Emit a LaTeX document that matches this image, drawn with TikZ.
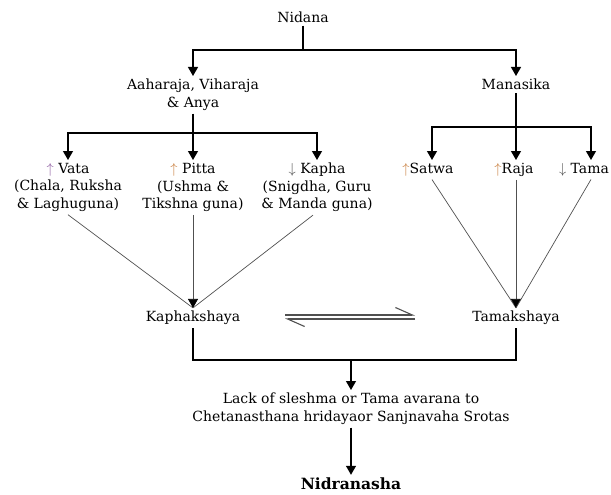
\documentclass[tikz,border=0pt]{standalone}
\usepackage{fontspec}
\setmainfont{DejaVu Serif}
\usetikzlibrary{arrows.meta,positioning}
\definecolor{risevata}{RGB}{140,90,160}
\definecolor{rise}{RGB}{200,125,60}
\definecolor{fall}{RGB}{80,80,80}
\definecolor{feedgray}{RGB}{80,80,80}
\newcommand{\up}[1]{\textcolor{#1}{$\uparrow$}}
\newcommand{\down}{\textcolor{fall}{$\downarrow$}}

\begin{document}
\begin{tikzpicture}[x=1pt, y=-1pt,
    font=\fontsize{14}{17.5}\selectfont,
    every node/.style={align=center, inner sep=3pt},
    >={Triangle[length=9pt,width=10pt]},
    tree/.style={draw, line width=1.2pt},
    feed/.style={draw=feedgray, line width=0.7pt},
    feedarrow/.style={feed, -{Triangle[length=9pt,width=10pt,color=black]}},
    harp/.style={draw=feedgray, line width=1.1pt, -{Straight Barb[harpoon, length=17pt, width=15pt]}}]
    \useasboundingbox (0,0) rectangle (611,495);

    % causes
    \node (nidana) at (303,17) {Nidana};
    \node[anchor=north] (ahara) at (193,76) {Aaharaja, Viharaja\\\& Anya};
    \node[anchor=north] (manas) at (516,76) {Manasika};

    % doshas
    \node[anchor=north] (vata)  at (68,160)  {\up{risevata} Vata\\(Chala, Ruksha\\\& Laghuguna)};
    \node[anchor=north] (pitta) at (193,160) {\up{rise} Pitta\\(Ushma \&\\Tikshna guna)};
    \node[anchor=north] (kapha) at (317,160) {\down{} Kapha\\(Snigdha, Guru\\\& Manda guna)};

    % gunas
    \node[anchor=north] (satwa) at (428,160) {\up{rise}Satwa};
    \node[anchor=north] (raja)  at (514,160) {\up{rise}Raja};
    \node[anchor=north] (tama)  at (584,160) {\down{} Tama};

    % kshaya
    \node (kaphak) at (193,318) {Kaphakshaya};
    \node (tamak)  at (516,318) {Tamakshaya};

    % result
    \node[anchor=north] (lack) at (351,390) {Lack of sleshma or Tama avarana to\\Chetanasthana hridayaor Sanjnavaha Srotas};
    \node (nidra) at (351,484) {\fontsize{15.5}{18}\selectfont\bfseries Nidranasha};

    \coordinate (split1) at (303,50);
    \coordinate (split2) at (193,133);
    \coordinate (split3) at (516,127);
    \coordinate (mergeL) at (193,360);
    \coordinate (mergeR) at (516,360);
    \coordinate (merge)  at (351,360);
    \coordinate (eqW) at (285,317);
    \coordinate (eqE) at (415,317);

    \draw[tree] (nidana) -- (split1);
    \draw[tree,->] (split1) -| (ahara);
    \draw[tree,->] (split1) -| (manas);

    \draw[tree] (ahara) -- (split2);
    \draw[tree,->] (split2) -| (vata);
    \draw[tree,->] (split2) -- (pitta);
    \draw[tree,->] (split2) -| (kapha);

    \draw[tree] (manas) -- (split3);
    \draw[tree,->] (split3) -| ([xshift=4pt]satwa.north);
    \draw[tree,->] (split3) -| ([xshift=2pt]raja.north);
    \draw[tree,->] (split3) -| ([xshift=7pt]tama.north);

    \draw[feed] (vata.south) -- (kaphak.north);
    \draw[feedarrow] (pitta.south) -- (kaphak.north);
    \draw[feed] ([xshift=-4pt]kapha.south) -- (kaphak.north);

    \draw[feed] ([xshift=4pt]satwa.south) -- (tamak.north);
    \draw[feedarrow] ([xshift=2pt]raja.south) -- (tamak.north);
    \draw[feed] ([xshift=7pt]tama.south) -- (tamak.north);

    \draw[harp] ([yshift=2pt]eqW) -- ([yshift=2pt]eqE);
    \draw[harp] ([yshift=-2pt]eqE) -- ([yshift=-2pt]eqW);

    \draw[tree] (kaphak) -- (mergeL) -- (mergeR) -- (tamak);
    \draw[tree,->] (merge) -- (lack);
    \draw[tree,->] (lack) -- (nidra);
\end{tikzpicture}
\end{document}
